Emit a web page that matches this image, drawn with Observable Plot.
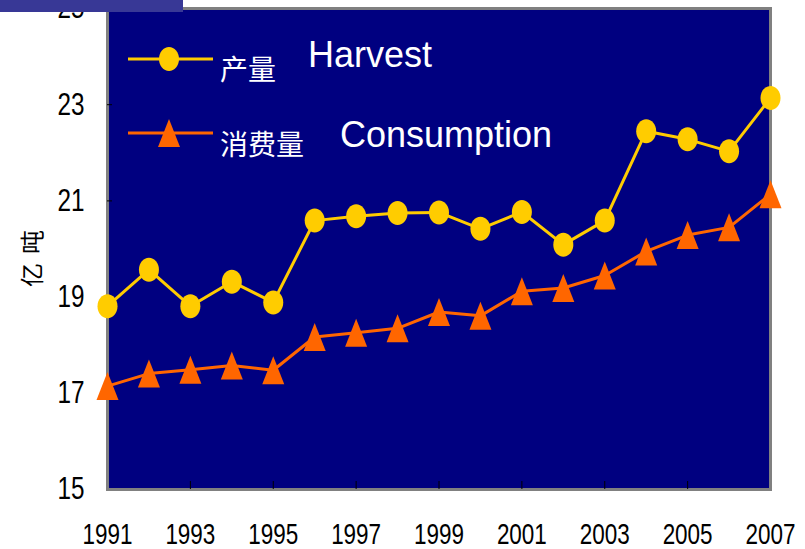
<!DOCTYPE html>
<html><head><meta charset="utf-8">
<script src="https://cdn.jsdelivr.net/npm/d3@7"></script>
<script src="https://cdn.jsdelivr.net/npm/@observablehq/plot@0.6"></script>
<style>
body{margin:0;background:#fff}
#wrap{position:relative;width:805px;height:549px;overflow:hidden}
#wrap svg{display:block}
#bar{position:absolute;left:0;top:0;width:183px;height:12px;background:#383896}
#legend{position:absolute;left:0;top:0;pointer-events:none}
</style>
</head><body><div id="wrap"></div>
<script>
const years = [1991,1992,1993,1994,1995,1996,1997,1998,1999,2000,2001,2002,2003,2004,2005,2006,2007];
const harvest = [18.81,19.57,18.81,19.32,18.89,20.59,20.68,20.75,20.76,20.42,20.77,20.09,20.59,22.45,22.28,22.03,23.14];
const consumption = [17.15,17.41,17.49,17.58,17.48,18.17,18.26,18.35,18.69,18.61,19.12,19.19,19.45,19.95,20.29,20.45,21.14];
const yTicks = [15,17,19,21,23,25];
const xTicks = [1991,1993,1995,1997,1999,2001,2003,2005,2007];
const xInnerTicks = [1993,1995,1997,1999,2001,2003,2005];
const seriesNames = ["产量","消费量"];
const seriesEnglish = ["Harvest","Consumption"];
const yLabel = "亿吨";

const C_NAVY = "#000080", C_YEL = "#FFCC00", C_ORG = "#FF6600";
const numFont = "'Liberation Sans',Arial,sans-serif";

const H = years.map((y,i)=>({year:y, value:harvest[i]}));
const Cn = years.map((y,i)=>({year:y, value:consumption[i]}));

// custom marker shapes (Excel-like)
const k = 0.5523;
const ellipseSym = {draw(ctx){ const rx=10, ry=12;
  ctx.moveTo(rx,0);
  ctx.bezierCurveTo(rx, ry*k, rx*k, ry, 0, ry);
  ctx.bezierCurveTo(-rx*k, ry, -rx, ry*k, -rx, 0);
  ctx.bezierCurveTo(-rx, -ry*k, -rx*k, -ry, 0, -ry);
  ctx.bezierCurveTo(rx*k, -ry, rx, -ry*k, rx, 0);
  ctx.closePath(); }};
const triSym = {draw(ctx){ ctx.moveTo(0,-14); ctx.lineTo(11,14); ctx.lineTo(-11,14); ctx.closePath(); }};

const chart = Plot.plot({
  width: 805, height: 549,
  marginLeft: 107, marginRight: 35, marginTop: 8, marginBottom: 60,
  style: {background: "transparent", color: "#000", overflow: "visible"},
  x: {domain: [1991, 2007]},
  y: {domain: [15, 25]},
  marks: [
    Plot.frame({fill: C_NAVY, stroke: "#808080", strokeWidth: 3}),
    Plot.axisY({ticks: yTicks, tickSize: 0, tickPadding: 23, fontSize: 31, fontFamily: numFont, label: null, tickFormat: d => String(d)}),
    Plot.axisY({ticks: yTicks.slice(1,-1), tickSize: -5, tickFormat: () => "", label: null, stroke: "#000"}),
    Plot.axisX({ticks: xTicks, tickSize: 0, tickPadding: 33, fontSize: 30, fontFamily: numFont, label: null, tickFormat: d => String(d)}),
    Plot.axisX({ticks: xInnerTicks, tickSize: -8, tickFormat: () => "", label: null, stroke: "#000"}),
    Plot.line(H, {x: "year", y: "value", stroke: C_YEL, strokeWidth: 3}),
    Plot.dot(H, {x: "year", y: "value", symbol: ellipseSym, fill: C_YEL, r: 10}),
    Plot.line(Cn, {x: "year", y: "value", stroke: C_ORG, strokeWidth: 3}),
    Plot.dot(Cn, {x: "year", y: "value", symbol: triSym, fill: C_ORG, r: 10})
  ]
});
// condense numeric tick labels (Arial Narrow look)
d3.select(chart).selectAll('g[aria-label="y-axis tick label"] text')
  .each(function(){ const n = this.textContent.length; if (n) d3.select(this).attr("textLength", 13.5*n).attr("lengthAdjust","spacingAndGlyphs"); });
d3.select(chart).selectAll('g[aria-label="x-axis tick label"] text')
  .each(function(){ const n = this.textContent.length; if (n) d3.select(this).attr("textLength", 12.5*n).attr("lengthAdjust","spacingAndGlyphs"); });

const wrap = document.getElementById("wrap");
wrap.appendChild(chart);
const bar = document.createElement("div"); bar.id = "bar"; wrap.appendChild(bar);

// overlay: y-axis title and legend
const svg = d3.select(wrap).append("svg").attr("id","legend").attr("width",805).attr("height",549);
svg.append("text").attr("transform","translate(30,254) rotate(-90)")
  .attr("text-anchor","middle").attr("dominant-baseline","central")
  .attr("font-size",24).attr("font-family","'Noto Sans CJK SC',sans-serif")
  .style("letter-spacing","9px").attr("fill","#000").text(yLabel);
const legendRows = [
  {color: C_YEL, sym: ellipseSym, cy: 59, cn: seriesNames[0], cnY: 80, en: seriesEnglish[0], enX: 308, enY: 67},
  {color: C_ORG, sym: triSym, cy: 133, cn: seriesNames[1], cnY: 155, en: seriesEnglish[1], enX: 340, enY: 147}
];
legendRows.forEach(r => {
  svg.append("line").attr("x1",128).attr("x2",213).attr("y1",r.cy).attr("y2",r.cy).attr("stroke",r.color).attr("stroke-width",3);
  svg.append("path").attr("d", d3.symbol(r.sym)()).attr("transform",`translate(169,${r.cy})`).attr("fill",r.color);
  svg.append("text").attr("x",220).attr("y",r.cnY).attr("fill","#fff").attr("font-size",28).attr("font-family","'Noto Sans CJK SC',sans-serif").text(r.cn);
  svg.append("text").attr("x",r.enX).attr("y",r.enY).attr("fill","#fff").attr("font-size",36).attr("font-family","'Liberation Sans',Arial,sans-serif").text(r.en);
});
</script>
</body></html>
